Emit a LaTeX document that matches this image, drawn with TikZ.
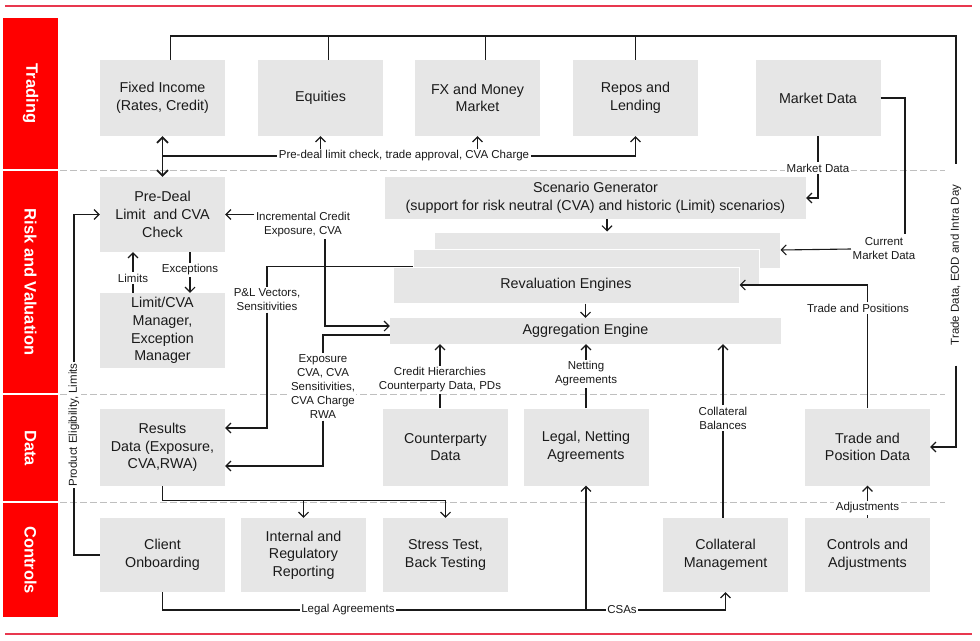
\documentclass[tikz,border=0pt]{standalone}
\usepackage{fontspec}
\setmainfont{Liberation Sans}
\usetikzlibrary{arrows.meta}
\definecolor{boxgray}{HTML}{E6E6E6}
\definecolor{bandred}{HTML}{FF0000}
\definecolor{rulered}{HTML}{E8384F}
\definecolor{ink}{HTML}{1A1A1A}
\tikzset{
  box/.style={fill=boxgray, minimum width=125pt, minimum height=76pt, align=center,
    inner sep=2pt, text=ink, font=\fontsize{14.3}{17.7}\selectfont},
  stackbox/.style={box, draw=white, line width=1pt, minimum width=346pt, minimum height=36pt},
  lbl/.style={fill=white, align=center, inner sep=1.5pt, text=ink, font=\fontsize{11.5}{14}\selectfont},
  bandtext/.style={rotate=-90, text=white, font=\fontsize{16.5}{19}\bfseries\selectfont},
  conn/.style={draw=ink, line width=1.1pt},
  zone/.style={draw=black!25, dash pattern=on 7pt off 3pt, line width=0.8pt},
}
\begin{document}
\begin{tikzpicture}[x=1pt, y=-1pt, >={Straight Barb[length=5pt,width=10pt]}]
  \useasboundingbox (0,0) rectangle (980,640);

  % Page rules and zone separators
  \draw[rulered, line width=1.5pt] (5,6) -- (972,6);
  \draw[rulered, line width=1.5pt] (5,634) -- (972,634);
  \foreach \y in {170,394,502}
    \draw[zone] (60,\y) -- (945,\y);

  % Red band with the zone names
  \foreach \top/\bot/\name [count=\i] in {18/169/Trading, 171/393/Risk and Valuation,
      395/501/Data, 503/617/Controls} {
    \fill[bandred] (3,\top) rectangle (58,\bot);
    \node[bandtext] (band-\i) at (30.5,{(\top+\bot)/2}) {\name};
  }

  % Trading
  \node[box] (fi) at (162.5,98) {Fixed Income\\(Rates, Credit)};
  \node[box] (eq) at (320.5,98) {Equities};
  \node[box] (fx) at (477.5,98) {FX and Money\\Market};
  \node[box] (rl) at (635.5,98) {Repos and\\Lending};
  \node[box] (md) at (818,98) {Market Data};

  % Risk and Valuation
  \node[box, minimum height=75pt] (pdc) at (162.5,214.5) {Pre-Deal\\Limit\ \ and CVA\\Check};
  \node[box, minimum height=75pt] (lcm) at (162.5,330.5) {Limit/CVA\\Manager,\\Exception\\Manager};
  \node[box, minimum width=421pt, minimum height=42pt] (sg) at (595.5,198)
    {Scenario Generator\\(support for risk neutral (CVA) and historic (Limit) scenarios)};
  \node[stackbox] (stk1) at (607,250) {};
  \node[stackbox] (stk2) at (586,267) {};
  \node[stackbox] (rev) at (566,285) {Revaluation Engines};
  \node[box, minimum width=391pt, minimum height=26pt] (agg) at (585.5,331) {Aggregation Engine};

  % Data
  \node[box, minimum height=77pt] (rd) at (162.5,447.5) {Results\\Data (Exposure,\\CVA,RWA)};
  \node[box, minimum height=77pt] (cpd) at (445.5,447) {Counterparty\\Data};
  \node[box, minimum height=77pt] (lna) at (586,447) {Legal, Netting\\Agreements};
  \node[box, minimum height=77pt] (tpd) at (867.5,447) {Trade and\\Position Data};

  % Controls
  \node[box, minimum height=74pt] (co) at (162.5,555) {Client\\Onboarding};
  \node[box, minimum height=74pt] (irr) at (303.5,555) {Internal and\\Regulatory\\Reporting};
  \node[box, minimum height=74pt] (st) at (445.5,555) {Stress Test,\\Back Testing};
  \node[box, minimum height=74pt] (cm) at (725.5,555) {Collateral\\Management};
  \node[box, minimum height=74pt] (ca) at (867.5,555) {Controls and\\Adjustments};

  % Connector labels
  \node[lbl] (pdl) at (404,156) {Pre-deal limit check, trade approval, CVA Charge};
  \node[lbl] (mdl) at (818,168) {Market Data};
  \node[lbl] (icl) at (303,225) {Incremental Credit\\Exposure, CVA};
  \node[lbl] (pll) at (267,300) {P\&L Vectors,\\Sensitivities};
  \node[lbl] (exl) at (323,387) {Exposure\\CVA, CVA\\Sensitivities,\\CVA Charge\\RWA};
  \node[lbl] (chl) at (440,380) {Credit Hierarchies\\Counterparty Data, PDs};
  \node[lbl] (nal) at (586,374) {Netting\\Agreements};
  \node[lbl] (cbl) at (723,418) {Collateral\\Balances};
  \node[lbl] (cml) at (884,249) {Current\\Market Data};
  \node[lbl] (tpl) at (858,308) {Trade and Positions};
  \node[lbl, rotate=90, fill=none, inner xsep=20pt] (trd) at (956,265) {Trade Data, EOD and Intra Day};
  \node[lbl] (adl) at (867.5,508) {Adjustments};
  \node[lbl] (lim) at (133,278) {Limits};
  \node[lbl] (exc) at (190,270) {Exceptions};
  \node[lbl, rotate=90] (pel) at (74,425) {Product Eligibility, Limits};
  \node[lbl] (lal) at (348,610) {Legal Agreements};
  \node[lbl] (csa) at (622,610) {CSAs};

  \coordinate (bus) at (956,36);
  \coordinate (cmt) at (905,234);

  % Trade feed to the desks
  \draw[conn] ([xshift=8pt]fi.north) |- (bus) -- (trd.east);
  \foreach \desk in {eq,fx}
    \draw[conn] ([xshift=8pt]\desk.north) -- ([xshift=8pt]\desk.north |- bus);
  \draw[conn] (rl.north) -- (rl.north |- bus);
  \draw[conn, ->] (trd.west) |- (tpd.east);

  % Pre-deal check
  \draw[conn, line width=1.7pt, {Straight Barb[length=5.5pt,width=11pt]}-{Straight Barb[length=5.5pt,width=11pt]}]
    (fi.south) -- (pdc.north);
  \draw[conn] (fi.south |- pdl.west) -- (pdl.west);
  \draw[conn, ->] (pdl.east) -| (rl.south);
  \draw[conn, ->] (eq.south |- pdl.north) -- (eq.south);
  \draw[conn, ->] (fx.south |- pdl.north) -- (fx.south);
  \draw[conn, ->] (icl.west |- pdc.east) -- (pdc.east);
  \draw[conn, ->] (lim.north) -- (lim.north |- pdc.south);
  \draw[conn] (lim.south) -- (lim.south |- lcm.north);
  \draw[conn] (exc.north |- pdc.south) -- (exc.north);
  \draw[conn, ->] (exc.south) -- (exc.south |- lcm.north);
  \draw[conn] (co.west) -| (pel.west);
  \draw[conn, ->] (pel.east) |- (pdc.west);

  % Market data
  \draw[conn] (md.south) -- (mdl.north);
  \draw[conn, ->] (mdl.south) |- (sg.east);
  \draw[conn] (md.east) -| (cmt);
  \draw[conn, ->] (cml.west) -- (stk1.east);
  \draw[conn, ->] (stk1.north |- sg.south) -- (stk1.north);

  % Valuation and aggregation
  \draw[conn, ->] (agg.north |- rev.south) -- (agg.north);
  \draw[conn] (tpd.north) -- (tpd.north |- tpl.south);
  \draw[conn, ->] (tpd.north |- tpl.north) |- (rev.east);
  \draw[conn, ->] ([xshift=22pt]icl.south) |- ([yshift=5pt]agg.west);
  \draw[conn] (stk2.west |- rev.north) -| (pll.north);
  \draw[conn, ->] (pll.south) |- ([yshift=19.5pt]rd.east);
  \draw[conn] ([yshift=-4pt]agg.west) -| (exl.north);
  \draw[conn, ->] (exl.south) |- ([yshift=-18.5pt]rd.east);
  \draw[conn, ->] (chl.north) -- (chl.north |- agg.south);
  \draw[conn] (cpd.north -| chl.south) -- (chl.south);
  \draw[conn, ->] (nal.north) -- (nal.north |- agg.south);
  \draw[conn] (lna.north) -- (nal.south);
  \draw[conn] (cm.north -| cbl.south) -- (cbl.south);
  \draw[conn, ->] (cbl.north) -- (cbl.north |- agg.south);

  % Results and controls
  \draw[conn, ->] (rd.south) |- ([yshift=17pt]st.north) -- (st.north);
  \draw[conn, ->] ([yshift=17pt]irr.north) -- (irr.north);
  \draw[conn] (co.south) |- (lal.west);
  \draw[conn] (lal.east) -- (csa.west);
  \draw[conn, ->] (lna.south |- lal.east) -- (lna.south);
  \draw[conn, ->] (csa.east) -| (cm.south);
  \draw[conn, ->] (adl.north) -- (tpd.south);
  \draw[conn] (ca.north) -- (adl.south);
\end{tikzpicture}
\end{document}
